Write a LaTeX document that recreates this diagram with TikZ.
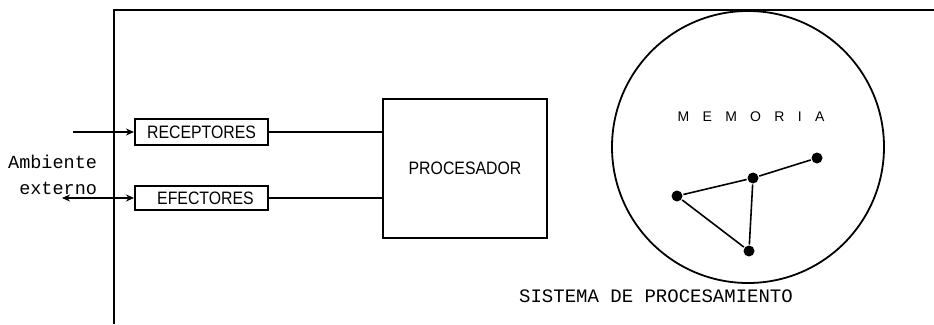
\documentclass[tikz,border=0pt]{standalone}
\usepackage{fontspec}
\setmainfont{Liberation Sans}
\newfontfamily\labfont[FakeStretch=0.88]{Liberation Sans}
\newfontfamily\monofont{Liberation Mono}
\newfontfamily\memfont[LetterSpace=95]{Liberation Sans}
\usetikzlibrary{arrows.meta}
\begin{document}
\begin{tikzpicture}[x=1pt,y=-1pt,
  line width=2pt,
  blockbox/.style={draw, rectangle, inner sep=0pt, font=\labfont\fontsize{18}{18}\selectfont},
  dotnode/.style={circle, fill=black, inner sep=0pt, minimum size=11pt},
  arr/.style={-{Stealth[length=8pt,width=7pt]}},
  darr/.style={{Stealth[length=8pt,width=7pt]}-{Stealth[length=8pt,width=7pt]}},
  monotext/.style={font=\monofont\fontsize{18.5}{18.5}\selectfont, inner sep=0pt}]
\useasboundingbox (0,0) rectangle (934,324);
% frame
\coordinate (fbl) at (114,324);
\coordinate (ftl) at (114,10);
\coordinate (ftr) at (934,10);
\draw (fbl) -- (ftl) -- (ftr);
% blocks
\node[blockbox, minimum width=133pt, minimum height=26pt] (rec) at (201.5,132) {RECEPTORES};
\node[blockbox, minimum width=133pt, minimum height=24pt] (efe) at (201.5,198) {\hspace*{8pt}EFECTORES};
\node[blockbox, minimum width=164pt, minimum height=139pt] (proc) at (465,168.5) {PROCESADOR};
\draw (rec.east) -- (rec.east -| proc.west);
\draw (efe.east) -- (efe.east -| proc.west);
% environment
\coordinate (inR) at (73,132);
\coordinate (outE) at (62,198);
\draw[arr] (inR) -- (rec.west);
\draw[darr] (outE) -- (efe.west);
\node[monotext, anchor=east] (amb) at (98,162) {Ambiente};
\node[monotext, anchor=east] (ext) at (98,188) {externo};
% memory
\node[draw, line width=1.8pt, circle, minimum size=272pt, inner sep=0pt] (mem) at (748,147) {};
\node[font=\memfont\fontsize{14}{14}\selectfont, inner sep=0pt] (memlab) at (751,117) {MEMORIA};
\node[dotnode] (d1) at (817,158) {};
\node[dotnode] (d2) at (753,178) {};
\node[dotnode] (d3) at (677,196) {};
\node[dotnode] (d4) at (749,251) {};
\draw[line width=1.6pt] (d3) -- (d2) -- (d1);
\draw[line width=1.6pt] (d3) -- (d4) -- (d2);
\node[monotext, font=\monofont\fontsize{19}{19}\selectfont] (sis) at (656,296) {SISTEMA DE PROCESAMIENTO};
\end{tikzpicture}
\end{document}
